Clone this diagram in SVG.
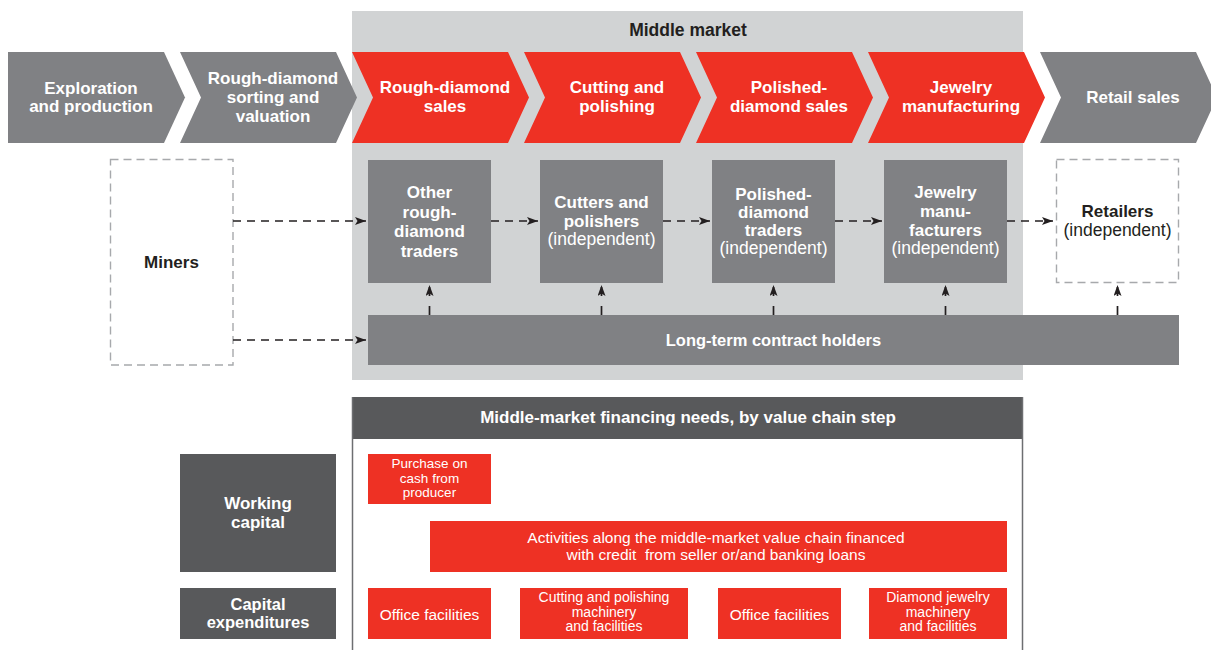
<svg xmlns="http://www.w3.org/2000/svg" width="1211" height="650" viewBox="0 0 1211 650">
<style>
.t{font-family:"Liberation Sans",Arial,sans-serif;text-anchor:middle}
.b{font-weight:bold}
.w{fill:#FFFFFF}
.k{fill:#231F20}
.chg{fill:#808184}
.chr{fill:#EE3124}
.box{fill:#808184}
.dk{fill:#58595B}
.red{fill:#EE3124}
.dash{fill:none;stroke:#A7A9AC;stroke-width:1.4;stroke-dasharray:8 5}
.cn{fill:none;stroke:#231F20;stroke-width:1.7}
.h{stroke-dasharray:8 6}
.v{stroke-dasharray:9 10}
.f17{font-size:17px}
.f16{font-size:16.5px}
.fi{font-size:17.5px}
.fr{font-size:15.5px}
.fs{font-size:14px}
</style>
<defs>
<marker id="ah" viewBox="0 0 11 8" refX="11" refY="4" markerWidth="11" markerHeight="8" markerUnits="userSpaceOnUse" orient="auto">
<path d="M0,0 L11,4 L0,8 L2.5,4 Z" fill="#231F20"/>
</marker>
</defs>
<rect width="1211" height="650" fill="#FFFFFF"/>
<g id="middle-market-band">
<rect x="352" y="11" width="671" height="369" fill="#D1D3D4"/>
<text class="t b k" x="688" y="36" font-size="17.5">Middle market</text>
</g>
<g id="step-exploration">
<path class="chg" d="M8,52 L164,52 L185,97.5 L164,143 L8,143 Z"/>
<text class="t b w f17" x="91" y="94">Exploration</text>
<text class="t b w f17" x="91" y="112">and production</text>
</g>
<g id="step-sorting">
<path class="chg" d="M180,52 L336,52 L357,97.5 L336,143 L180,143 L201,97.5 Z"/>
<text class="t b w f17" x="273" y="84">Rough-diamond</text>
<text class="t b w f17" x="273" y="103">sorting and</text>
<text class="t b w f17" x="273" y="122">valuation</text>
</g>
<g id="step-rough-sales">
<path class="chr" d="M352,52 L508,52 L529,97.5 L508,143 L352,143 L373,97.5 Z"/>
<text class="t b w f17" x="445" y="93">Rough-diamond</text>
<text class="t b w f17" x="445" y="112">sales</text>
</g>
<g id="step-cutting">
<path class="chr" d="M524,52 L680,52 L701,97.5 L680,143 L524,143 L545,97.5 Z"/>
<text class="t b w f17" x="617" y="93">Cutting and</text>
<text class="t b w f17" x="617" y="112">polishing</text>
</g>
<g id="step-polished-sales">
<path class="chr" d="M696,52 L852,52 L873,97.5 L852,143 L696,143 L717,97.5 Z"/>
<text class="t b w f17" x="789" y="93">Polished-</text>
<text class="t b w f17" x="789" y="112">diamond sales</text>
</g>
<g id="step-jewelry">
<path class="chr" d="M868,52 L1024,52 L1045,97.5 L1024,143 L868,143 L889,97.5 Z"/>
<text class="t b w f17" x="961" y="93">Jewelry</text>
<text class="t b w f17" x="961" y="112">manufacturing</text>
</g>
<g id="step-retail">
<path class="chg" d="M1040,52 L1196,52 L1217,97.5 L1196,143 L1040,143 L1061,97.5 Z"/>
<text class="t b w f17" x="1133" y="103">Retail sales</text>
</g>
<g id="miners">
<rect class="dash" x="110.5" y="159.5" width="122.5" height="205.5"/>
<text class="t b k f17" x="171.5" y="268">Miners</text>
</g>
<g id="other-traders">
<rect class="box" x="368" y="160" width="123" height="123"/>
<text class="t b w f17" x="429.5" y="198">Other</text>
<text class="t b w f17" x="429.5" y="218">rough-</text>
<text class="t b w f17" x="429.5" y="237">diamond</text>
<text class="t b w f17" x="429.5" y="257">traders</text>
</g>
<g id="cutters">
<rect class="box" x="540" y="160" width="123" height="123"/>
<text class="t b w f17" x="601.5" y="208">Cutters and</text>
<text class="t b w f17" x="601.5" y="227">polishers</text>
<text class="t w fi" x="601.5" y="245">(independent)</text>
</g>
<g id="polished-traders">
<rect class="box" x="712" y="160" width="123" height="123"/>
<text class="t b w f17" x="773.5" y="200">Polished-</text>
<text class="t b w f17" x="773.5" y="218">diamond</text>
<text class="t b w f17" x="773.5" y="236">traders</text>
<text class="t w fi" x="773.5" y="254">(independent)</text>
</g>
<g id="jewelry-manufacturers">
<rect class="box" x="884" y="160" width="123" height="123"/>
<text class="t b w f17" x="945.5" y="198">Jewelry</text>
<text class="t b w f17" x="945.5" y="217">manu-</text>
<text class="t b w f17" x="945.5" y="236">facturers</text>
<text class="t w fi" x="945.5" y="254">(independent)</text>
</g>
<g id="retailers">
<rect class="dash" x="1056.5" y="159.5" width="122" height="123"/>
<text class="t b k f17" x="1117.5" y="217">Retailers</text>
<text class="t k fi" x="1117.5" y="236">(independent)</text>
</g>
<g id="long-term-contract-holders">
<rect class="box" x="368" y="315" width="811" height="50"/>
<text class="t b w f16" x="773.5" y="346">Long-term contract holders</text>
</g>
<g id="connectors">
<line class="cn h" x1="233" y1="221" x2="366" y2="221" marker-end="url(#ah)"/>
<line class="cn h" x1="491" y1="221" x2="538" y2="221" marker-end="url(#ah)"/>
<line class="cn h" x1="663" y1="221" x2="710" y2="221" marker-end="url(#ah)"/>
<line class="cn h" x1="835" y1="221" x2="882" y2="221" marker-end="url(#ah)"/>
<line class="cn h" x1="1007" y1="221" x2="1053" y2="221" marker-end="url(#ah)"/>
<line class="cn h" x1="233" y1="340" x2="366" y2="340" marker-end="url(#ah)"/>
<line class="cn v" x1="429.5" y1="315" x2="429.5" y2="285" marker-end="url(#ah)"/>
<line class="cn v" x1="601.5" y1="315" x2="601.5" y2="285" marker-end="url(#ah)"/>
<line class="cn v" x1="773.5" y1="315" x2="773.5" y2="285" marker-end="url(#ah)"/>
<line class="cn v" x1="945.5" y1="315" x2="945.5" y2="285" marker-end="url(#ah)"/>
<line class="cn v" x1="1117.5" y1="315" x2="1117.5" y2="285" marker-end="url(#ah)"/>
</g>
<g id="financing-panel">
<rect x="352" y="397" width="671" height="42" fill="#58595B"/>
<line x1="352.5" y1="397" x2="352.5" y2="650" stroke="#6D6E71" stroke-width="1.5"/>
<line x1="1022.5" y1="397" x2="1022.5" y2="650" stroke="#6D6E71" stroke-width="1.5"/>
<text class="t b w f17" x="688" y="423">Middle-market financing needs, by value chain step</text>
</g>
<g id="working-capital">
<rect class="dk" x="180" y="454" width="156" height="118"/>
<text class="t b w f17" x="258" y="509">Working</text>
<text class="t b w f17" x="258" y="528">capital</text>
</g>
<g id="capital-expenditures">
<rect class="dk" x="180" y="588" width="156" height="51"/>
<text class="t b w f16" x="258" y="610">Capital</text>
<text class="t b w f16" x="258" y="628">expenditures</text>
</g>
<g id="purchase-on-cash">
<rect class="red" x="368" y="454" width="123" height="50"/>
<text class="t w" font-size="13.5" x="429.5" y="468">Purchase on</text>
<text class="t w" font-size="13.5" x="429.5" y="482.5">cash from</text>
<text class="t w" font-size="13.5" x="429.5" y="497">producer</text>
</g>
<g id="credit-activities">
<rect class="red" x="430" y="521" width="577" height="51"/>
<text class="t w fr" x="716" y="543">Activities along the middle-market value chain financed</text>
<text class="t w fr" x="716" y="560" style="white-space:pre">with credit  from seller or/and banking loans</text>
</g>
<g id="office-facilities-1">
<rect class="red" x="368" y="588" width="123" height="51"/>
<text class="t w fr" x="429.5" y="620">Office facilities</text>
</g>
<g id="cutting-machinery">
<rect class="red" x="520" y="588" width="168" height="51"/>
<text class="t w fs" x="604" y="602">Cutting and polishing</text>
<text class="t w fs" x="604" y="616.5">machinery</text>
<text class="t w fs" x="604" y="631">and facilities</text>
</g>
<g id="office-facilities-2">
<rect class="red" x="718" y="588" width="123" height="51"/>
<text class="t w fr" x="779.5" y="620">Office facilities</text>
</g>
<g id="jewelry-machinery">
<rect class="red" x="869" y="588" width="138" height="51"/>
<text class="t w fs" x="938" y="602">Diamond jewelry</text>
<text class="t w fs" x="938" y="616.5">machinery</text>
<text class="t w fs" x="938" y="631">and facilities</text>
</g>
</svg>
